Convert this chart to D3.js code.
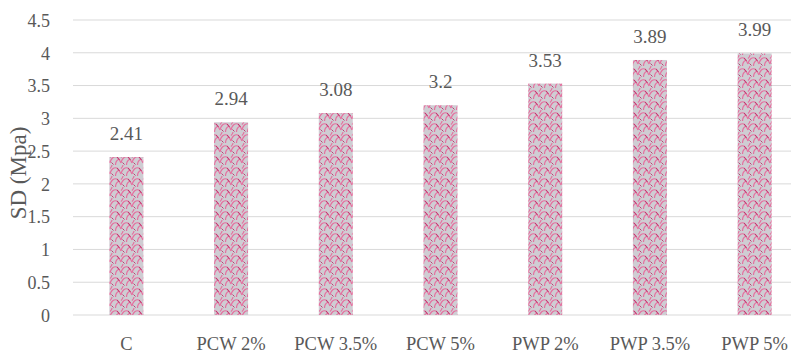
<!DOCTYPE html>
<html>
<head>
<meta charset="utf-8">
<script src="https://cdn.jsdelivr.net/npm/d3@7"></script>
<style>
  html, body { margin: 0; padding: 0; background: #fff; }
  svg { display: block; }
</style>
</head>
<body>
<script>
// Standard deviation (MPa) per mix
const categories = ["C", "PCW 2%", "PCW 3.5%", "PCW 5%", "PWP 2%", "PWP 3.5%", "PWP 5%"];
const sdValues = [2.41, 2.94, 3.08, 3.2, 3.53, 3.89, 3.99];
const yTicks = [0, 0.5, 1, 1.5, 2, 2.5, 3, 3.5, 4, 4.5];
const yTickLabels = ["0", "0.5", "1", "1.5", "2", "2.5", "3", "3.5", "4", "4.5"];
const yTitle = "SD (Mpa)";

const FONT = "'Liberation Serif', 'DejaVu Serif', 'Times New Roman', serif";
const INK = "#595959";

const W = 791, H = 353;
const svg = d3.select("body").append("svg").attr("width", W).attr("height", H);

// Scale-like fill for the bars
const defs = svg.append("defs");
const pat = defs.append("pattern")
  .attr("id", "shingle").attr("patternUnits", "userSpaceOnUse")
  .attr("width", 11).attr("height", 11);
pat.append("rect").attr("width", 11).attr("height", 11).attr("fill", "#cfcdd3");
pat.append("path")
  .attr("d", "M0,9 C1,4 4,2 7,3 C9,4 10,7 11,9 M5.5,11 C5.5,8 7,6 9,5 M0,3.5 C1.5,2 2,0.5 2,0 M11,3.5 C12,2 12.5,0.5 12.5,0")
  .attr("fill", "none").attr("stroke", "#e5709f").attr("stroke-width", 1.2);
pat.append("path")
  .attr("d", "M7,3 L9.5,6 M1.5,8.5 L3.5,10.5")
  .attr("fill", "none").attr("stroke", "#b83066").attr("stroke-width", 0.9);

const x = d3.scaleBand().domain(categories).range([74, 807]).paddingInner(0.675).paddingOuter(0.3375);
const y = d3.scaleLinear().domain([0, 4.5]).range([315, 20]);

// Horizontal gridlines
svg.append("g").selectAll("line").data(yTicks).join("line")
  .attr("x1", 73).attr("x2", W)
  .attr("y1", d => y(d)).attr("y2", d => y(d))
  .attr("stroke", "#d9d9d9").attr("stroke-width", 1);

// Y axis tick labels
const yAxis = d3.axisLeft(y).tickValues(yTicks)
  .tickFormat((d, i) => yTickLabels[i]).tickSize(0).tickPadding(0);
const gy = svg.append("g").attr("transform", "translate(50,0)").call(yAxis);
gy.attr("font-family", FONT);
gy.select(".domain").remove();
gy.selectAll("text").attr("font-size", 18).attr("dy", "0.35em")
  .attr("fill", INK).style("font-family", FONT);

// Bars
svg.append("g").selectAll("rect").data(sdValues).join("rect")
  .attr("x", (d, i) => x(categories[i]))
  .attr("width", x.bandwidth())
  .attr("y", d => y(d))
  .attr("height", d => y(0) - y(d))
  .attr("fill", "url(#shingle)");

// Value labels
svg.append("g").selectAll("text").data(sdValues).join("text")
  .attr("x", (d, i) => x(categories[i]) + x.bandwidth() / 2)
  .attr("y", d => y(d) - 17)
  .attr("text-anchor", "middle").attr("font-size", 19)
  .attr("fill", INK).style("font-family", FONT)
  .text(d => d);

// X axis labels
const xAxis = d3.axisBottom(x).tickSize(0).tickPadding(0);
const gx = svg.append("g").attr("transform", "translate(0,337)").call(xAxis);
gx.attr("font-family", FONT);
gx.select(".domain").remove();
gx.selectAll("text").attr("font-size", 18.5).attr("dy", "0.71em")
  .attr("fill", INK).style("font-family", FONT);

// Y axis title
svg.append("text")
  .attr("transform", "translate(26,173) rotate(-90)")
  .attr("text-anchor", "middle").attr("font-size", 23)
  .attr("fill", INK).style("font-family", FONT)
  .text(yTitle);
</script>
</body>
</html>
